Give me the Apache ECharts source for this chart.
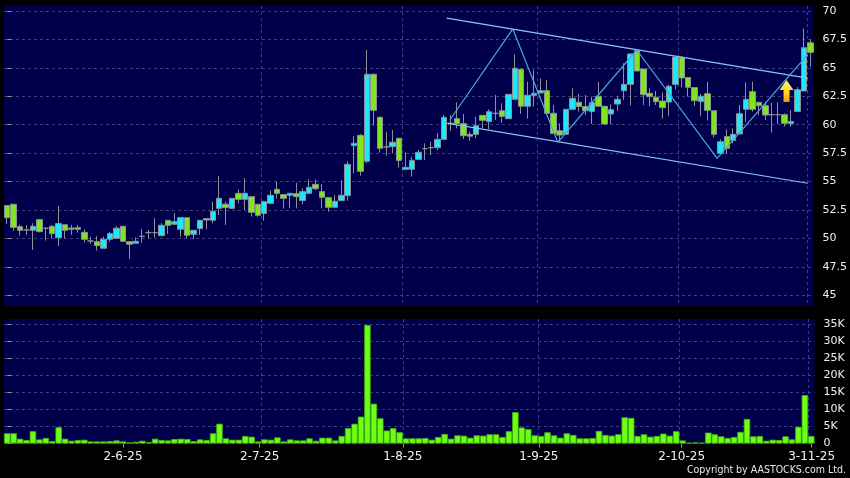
<!DOCTYPE html>
<html>
<head>
<meta charset="utf-8">
<title>AASTOCKS chart</title>
<script src="https://cdn.jsdelivr.net/npm/echarts@6/dist/echarts.min.js"></script>
<style>
  html, body { margin: 0; padding: 0; background: #000; }
  #chart { width: 850px; height: 478px; }
</style>
</head>
<body>
<div id="chart"></div>
<script>
// one row per trading day: open, close, low, high
const candles = [
  [52.88,51.82,51.27,52.88],[53.0,50.97,50.68,53.0],[51.03,50.71,50.24,51.18],[50.74,50.74,50.3,51.18],
  [50.71,51.06,48.98,51.33],[51.65,50.59,50.53,51.65],[50.89,50.89,49.8,50.97],[51.06,50.42,49.98,51.18],
  [50.06,51.3,49.33,52.85],[51.2,50.71,50.0,51.2],[50.8,50.91,50.3,51.18],[50.94,50.8,50.5,51.18],
  [50.53,49.92,49.62,50.8],[49.77,49.77,49.5,50.15],[49.71,49.36,48.92,50.21],[49.13,49.92,49.13,50.15],
  [49.92,50.42,49.71,50.59],[50.0,50.89,50.0,51.09],[51.06,49.74,49.71,51.06],[49.71,49.48,48.19,49.71],
  [49.57,49.74,49.5,50.09],[50.18,50.18,49.62,50.8],[50.5,50.5,50.0,50.74],[50.5,50.5,50.09,51.77],
  [50.24,51.15,50.24,51.33],[51.59,51.15,50.39,51.59],[51.24,51.47,51.18,52.2],[50.8,51.82,50.15,51.82],
  [51.82,50.27,50.0,51.82],[50.36,50.71,49.92,50.74],[50.86,51.59,50.3,51.62],[51.74,51.62,50.8,51.74],
  [51.59,52.38,51.33,53.23],[52.64,53.52,52.06,55.49],[53.0,52.7,51.18,53.23],[52.64,53.52,52.64,53.52],
  [53.96,53.43,53.08,54.31],[53.43,53.96,52.5,55.28],[53.67,52.29,51.91,53.67],[53.0,52.03,51.91,53.0],
  [52.2,53.23,51.56,53.32],[53.08,53.79,53.08,54.2],[54.31,53.96,53.52,54.99],[53.85,53.52,52.64,53.85],
  [53.79,53.96,52.64,53.96],[53.93,53.67,52.64,54.9],[53.32,54.11,53.0,54.4],[53.96,54.49,53.96,55.19],
  [54.75,54.37,54.25,55.19],[54.11,53.61,52.64,54.78],[53.58,52.73,52.35,53.58],[52.73,53.26,52.73,53.82],
  [53.32,53.79,53.32,55.08],[53.76,56.51,53.32,56.75],[58.16,58.36,55.72,59.0],[59.06,55.9,55.52,59.18],
  [56.78,64.43,56.6,66.57],[64.43,61.26,59.91,64.52],[60.65,57.92,57.54,60.71],[58.04,58.04,57.28,59.39],
  [58.07,58.45,57.48,59.53],[58.8,56.86,56.22,58.8],[56.07,56.25,56.07,57.57],[56.07,56.86,55.43,57.19],
  [56.95,57.57,56.95,57.77],[57.89,57.89,56.89,58.36],[57.98,57.98,57.33,58.5],[57.98,58.71,57.77,59.24],
  [58.71,60.65,58.71,60.85],[60.12,60.12,59.47,60.85],[60.53,60.09,59.68,61.97],[60.09,59.03,58.74,60.94],
  [59.15,58.98,58.57,59.39],[59.15,59.91,58.8,60.71],[60.82,60.38,59.68,60.82],[60.27,61.14,59.59,61.35],
  [61.0,61.0,60.41,62.61],[61.23,60.73,60.18,61.88],[60.53,62.67,60.53,62.67],[62.23,64.96,62.23,66.2],
  [64.87,61.62,60.94,64.87],[61.62,62.58,60.53,63.78],[62.58,62.76,61.58,64.81],[62.79,62.99,62.76,64.08],
  [62.99,61.0,61.0,63.93],[61.0,59.24,59.24,61.73],[59.47,59.09,58.51,60.12],[59.15,61.35,59.15,61.35],
  [61.35,62.32,61.35,63.2],[61.97,61.6,61.15,62.7],[61.6,61.23,60.85,62.61],[61.15,61.94,60.06,62.47],
  [62.5,61.62,61.62,63.78],[61.62,60.06,59.97,61.62],[60.94,61.32,60.06,61.79],[61.82,62.23,61.23,62.47],
  [62.99,63.55,62.17,65.4],[63.55,66.22,61.7,66.28],[66.51,64.72,64.72,66.57],[64.9,62.64,61.73,64.9],
  [62.76,62.47,61.64,63.2],[62.41,62.02,61.73,62.96],[62.08,61.5,60.53,62.82],[61.99,63.37,60.76,63.49],
  [63.55,65.95,63.11,66.04],[65.92,64.11,63.29,66.04],[64.14,63.29,62.47,64.14],[63.26,62.11,61.64,63.26],
  [62.05,62.5,60.76,62.7],[62.73,61.26,60.36,63.78],[61.23,59.15,58.86,61.23],[57.48,58.5,57.33,58.71],
  [58.95,57.92,57.42,59.59],[58.6,59.15,58.36,59.68],[59.18,60.97,59.18,61.73],[61.35,62.23,60.27,63.72],
  [62.9,61.35,61.15,63.78],[61.97,61.67,60.85,61.97],[61.67,60.85,60.41,62.02],[60.88,60.88,59.3,61.94],
  [60.88,60.88,60.06,61.97],[60.88,60.12,59.83,61.0],[60.09,60.27,59.83,61.29],[61.17,63.08,61.17,63.29],
  [62.97,66.77,62.97,68.47],[67.2,66.36,65.1,67.51]
];

// volume in thousands
const volumes = [
  3.0,3.0,1.4,1.0,3.6,1.2,1.6,0.7,4.8,1.4,0.8,1.0,1.1,0.6,0.6,0.6,0.7,0.9,0.6,0.3,0.5,
  0.8,0.4,1.4,1.0,0.9,1.3,1.4,1.3,0.7,1.2,1.0,3.0,5.8,1.5,1.1,1.1,2.2,2.0,0.6,1.2,1.1,
  1.8,0.6,1.2,0.9,0.9,1.5,0.8,1.7,1.7,0.9,2.2,4.5,5.8,7.9,34.8,11.7,7.4,3.8,4.5,3.3,
  1.5,1.5,1.5,1.6,1.1,1.9,2.8,1.4,2.4,2.3,1.7,2.4,2.3,2.7,2.7,1.9,3.6,9.2,4.7,4.2,2.4,
  2.2,3.3,2.4,1.7,3.0,2.5,1.5,1.5,1.6,3.7,2.5,2.3,2.7,7.7,7.5,2.2,2.7,2.0,2.2,2.9,2.3,
  3.6,0.9,0.2,0.3,0.2,3.2,2.7,2.1,1.6,1.9,3.4,7.2,2.1,2.2,0.8,1.1,1.0,2.1,1.2,4.9,14.2,2.2
];

const categories = candles.map((c, i) => i);

const tickLabels = ['2-6-25', '2-7-25', '1-8-25', '1-9-25', '2-10-25', '3-11-25'];
// where those labels sit, in bars
const tickPositions = [18, 39.25, 61.5, 82.65, 104.85, 125.05];
// month gridlines fall on the bar boundary before these bars
const monthBars = [19, 40, 62, 83, 105, 125];

const priceTicks = [45, 47.5, 50, 52.5, 55, 57.5, 60, 62.5, 65, 67.5, 70];
const volumeTicks = [0, 5, 10, 15, 20, 25, 30, 35];

// drawn trend lines, [bar, price]
const upperChannel = [[68.4, 69.38], [124.6, 64.1]];
const lowerChannel = [[68.55, 60.12], [124.6, 54.85]];
const zigzag = [[68.9, 60.41], [78.7, 68.42], [85.7, 58.45], [98.0, 66.57], [110.5, 57.04], [124.6, 66.17]];
const arrowPoint = [121.3, 62.96];

const FONT = '"DejaVu Sans", sans-serif';
const GRID_COLOR = '#3e3e7c';
const WICK = '#8b9196';

const splitDash = { show: true, lineStyle: { color: GRID_COLOR, type: [3, 3], width: 1 } };

function monthSplit() {
  return {
    show: true,
    showMinLine: false,
    showMaxLine: false,
    interval: function (index) { return monthBars.indexOf(index) >= 0; },
    lineStyle: splitDash.lineStyle
  };
}

function hiddenValueX(gridIndex) {
  return {
    type: 'value',
    gridIndex: gridIndex,
    position: 'bottom',
    min: -0.5,
    max: 125.5,
    axisLine: { show: false },
    axisTick: { show: false },
    axisLabel: { show: false },
    splitLine: { show: false }
  };
}

let chart = echarts.init(document.getElementById('chart'), null, { renderer: 'canvas' });

let bottomAxis = hiddenValueX(1);
bottomAxis.axisTick = {
  show: true,
  length: 4,
  customValues: tickPositions,
  lineStyle: { color: '#999' }
};
bottomAxis.axisLabel = {
  show: true,
  customValues: tickPositions,
  color: '#f0f0f0',
  fontFamily: FONT,
  fontSize: 12,
  margin: 7,
  hideOverlap: false,
  formatter: function (v) { return tickLabels[tickPositions.indexOf(v)]; }
};

let option = {
  animation: false,
  backgroundColor: '#000',
  title: {
    text: 'Copyright by AASTOCKS.com Ltd.',
    right: 4,
    top: 465,
    padding: 0,
    textStyle: { color: '#e8e8e8', fontFamily: '"DejaVu Sans Condensed", "DejaVu Sans", sans-serif', fontSize: 10.5, fontWeight: 'normal' }
  },
  grid: [
    { left: 4, top: 6, width: 810.5, height: 300, show: true, backgroundColor: '#00004a', borderWidth: 0 },
    { left: 4, top: 319, width: 810.5, height: 124.5, show: true, backgroundColor: '#00004a', borderWidth: 0 }
  ],
  xAxis: [
    {
      type: 'category', gridIndex: 0, data: categories,
      axisLine: { show: false }, axisTick: { show: false }, axisLabel: { show: false },
      splitLine: monthSplit()
    },
    hiddenValueX(0),
    {
      type: 'category', gridIndex: 1, data: categories,
      axisLine: { show: false }, axisTick: { show: false }, axisLabel: { show: false },
      splitLine: monthSplit()
    },
    bottomAxis
  ],
  yAxis: [
    {
      type: 'value', gridIndex: 0, position: 'right',
      min: 44.05, max: 70.44, scale: true,
      axisLine: { show: false },
      axisTick: { show: true, length: 4, customValues: priceTicks, lineStyle: { color: '#999' } },
      axisLabel: {
        customValues: priceTicks, color: '#f0f0f0', fontFamily: FONT, fontSize: 11, margin: 9,
        formatter: function (v) { return String(v); }
      },
      splitLine: splitDash
    },
    {
      type: 'value', gridIndex: 1, position: 'right',
      min: 0, max: 36.56,
      axisLine: { show: false },
      axisTick: { show: true, length: 4, customValues: volumeTicks, lineStyle: { color: '#999' } },
      axisLabel: {
        customValues: volumeTicks, color: '#f0f0f0', fontFamily: FONT, fontSize: 11, margin: 9,
        formatter: function (v) { return v === 0 ? '0' : v + 'K'; }
      },
      splitLine: splitDash
    }
  ],
  series: [
    {
      type: 'candlestick', xAxisIndex: 0, yAxisIndex: 0,
      data: candles,
      barWidth: 6,
      itemStyle: {
        color: '#1fe6f8', color0: '#7ee61c',
        borderColor: WICK, borderColor0: WICK, borderColorDoji: WICK,
        borderWidth: 1
      },
      silent: true
    },
    {
      type: 'line', xAxisIndex: 1, yAxisIndex: 0, data: upperChannel,
      showSymbol: false, silent: true, lineStyle: { color: '#86c8ec', width: 1.2 }
    },
    {
      type: 'line', xAxisIndex: 1, yAxisIndex: 0, data: lowerChannel,
      showSymbol: false, silent: true, lineStyle: { color: '#86c8ec', width: 1.2 }
    },
    {
      type: 'line', xAxisIndex: 1, yAxisIndex: 0, data: zigzag,
      showSymbol: false, silent: true, lineStyle: { color: '#4aa6e0', width: 1.2 }
    },
    {
      type: 'scatter', xAxisIndex: 1, yAxisIndex: 0, data: [arrowPoint],
      symbol: 'path://M7 0 L14 10 L10 10 L10 22 L4 22 L4 10 L0 10 Z',
      symbolSize: [14, 22],
      silent: true,
      itemStyle: {
        opacity: 1,
        color: new echarts.graphic.LinearGradient(0, 0, 0, 1, [
          { offset: 0, color: '#fff27a' },
          { offset: 0.6, color: '#ffd21e' },
          { offset: 1, color: '#e89a10' }
        ])
      }
    },
    {
      type: 'bar', xAxisIndex: 2, yAxisIndex: 1,
      data: volumes,
      barWidth: 6.4,
      silent: true,
      itemStyle: { color: '#6cff14', borderColor: '#45b80f', borderWidth: 0.8 }
    }
  ]
};

chart.setOption(option);
</script>
</body>
</html>
